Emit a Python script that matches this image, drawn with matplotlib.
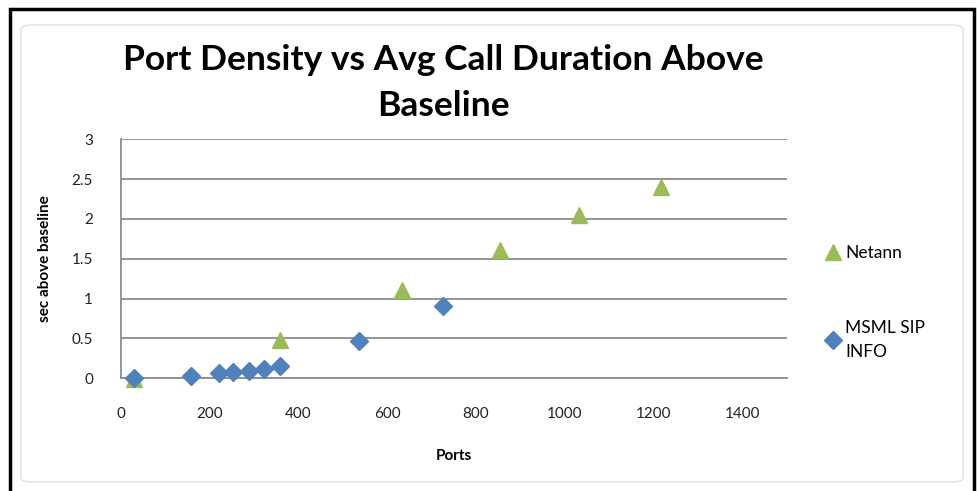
import matplotlib
matplotlib.use("Agg")
import matplotlib.pyplot as plt
from matplotlib.patches import Rectangle, FancyBboxPatch

# data
msml_ports = [30, 158, 221, 254, 289, 323, 359, 537, 725]
msml_sec = [0.01, 0.03, 0.063, 0.075, 0.095, 0.12, 0.155, 0.47, 0.91]
netann_ports = [30, 359, 634, 855, 1033, 1216]
netann_sec = [-0.01, 0.48, 1.11, 1.61, 2.05, 2.40]

x_ticks = [0, 200, 400, 600, 800, 1000, 1200, 1400]
y_ticks = [0, 0.5, 1, 1.5, 2, 2.5, 3]
y_tick_labels = ["0", "0.5", "1", "1.5", "2", "2.5", "3"]

green = "#9BBB59"
blue = "#4F81BD"
grid_col = "#8C8C8C"

plt.rcParams['font.family'] = ['Lato', 'DejaVu Sans']

W, H = 977, 491
fig = plt.figure(figsize=(W / 100, H / 100), dpi=100)

# outer black frame and faint inner chart border
fig.add_artist(Rectangle((10 / W, -0.05), (974 - 10) / W, (H - 9) / H + 0.05,
                         transform=fig.transFigure, fill=False, ec="black", lw=2.5))
fig.add_artist(FancyBboxPatch((21 / W, 9 / H), (963 - 21) / W, (474 - 17) / H,
                              boxstyle="round,pad=0,rounding_size=0.01",
                              transform=fig.transFigure, fill=False, ec="#DCE3E8", lw=1))

ax = fig.add_axes([120.7 / W, 1 - 378.3 / H, (786.7 - 120.7) / W, (378.3 - 139.3) / H])

ax.plot(netann_ports, netann_sec, linestyle="none", marker="^", markersize=11,
        color=green, label="Netann", clip_on=False, zorder=3)
ax.plot(msml_ports, msml_sec, linestyle="none", marker="D", markersize=9,
        color=blue, label="MSML SIP\nINFO", clip_on=False, zorder=4)

ax.set_xlim(0, 1500)
ax.set_ylim(0, 3)
ax.set_xticks(x_ticks)
ax.set_xticklabels([str(t) for t in x_ticks])
ax.set_yticks(y_ticks)
ax.set_yticklabels(y_tick_labels)
ax.tick_params(length=0, labelsize=11, labelcolor="#222222")
ax.tick_params(axis="x", pad=21)
ax.tick_params(axis="y", pad=20)
ax.grid(axis="y", color=grid_col, lw=1.3)
ax.set_axisbelow(True)
for s in ["top", "right"]:
    ax.spines[s].set_visible(False)
for s in ["left", "bottom"]:
    ax.spines[s].set_color(grid_col)
    ax.spines[s].set_linewidth(1.3)

ax.set_xlabel("Ports", fontsize=11, fontweight="bold", labelpad=20)
ax.set_ylabel("sec above baseline", fontsize=11, fontweight="bold", labelpad=14)

fig.text(443 / W, 1 - 83 / H, "Port Density vs Avg Call Duration Above\nBaseline",
         ha="center", va="center", fontsize=25.5, fontweight="bold",
         linespacing=1.5)

leg = ax.legend(loc="upper left", bbox_to_anchor=(826 / W, 1 - 245 / H),
                bbox_transform=fig.transFigure, frameon=False, fontsize=12.5,
                handlelength=0.8, handletextpad=0.3, labelspacing=3.4,
                borderpad=0, borderaxespad=0)
for t in leg.get_texts():
    t.set_linespacing(1.6)

fig.savefig("out.png", dpi=100)
